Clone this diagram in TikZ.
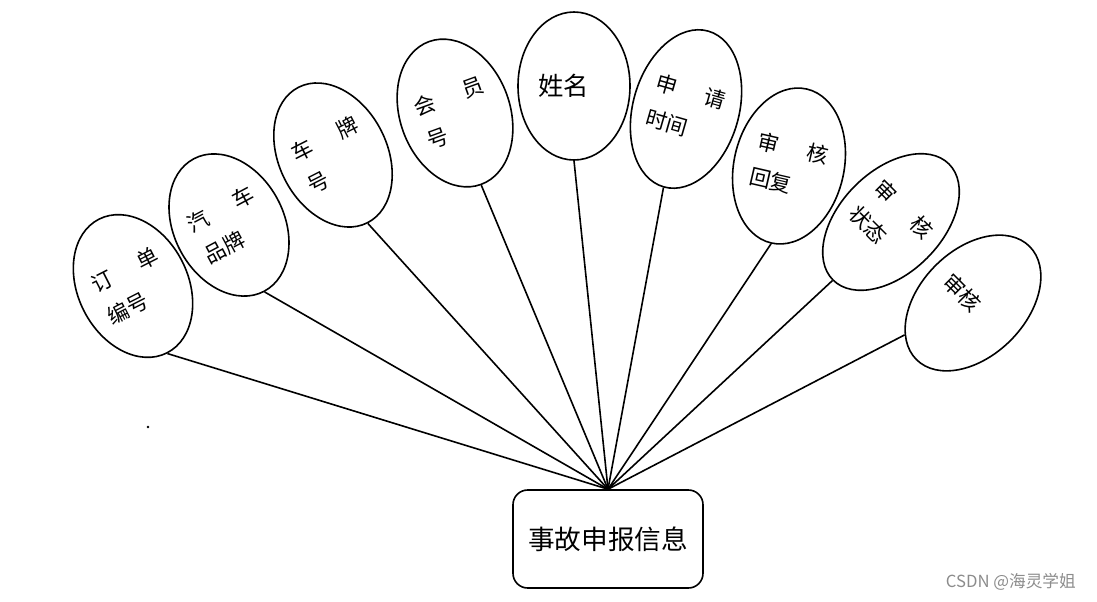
\documentclass[tikz,border=0pt]{standalone}
\usepackage{fontspec}
\newfontfamily\cjk{Noto Sans CJK SC}
\usepackage{tikz}
\usetikzlibrary{shapes.geometric}

\begin{document}
\begin{tikzpicture}[x=0.75pt, y=-0.75pt, line width=1.2pt,
    attr/.style={ellipse, draw, inner sep=0pt, text width=54pt, align=left,
        font=\cjk\fontsize{16}{27}\selectfont},
    entity/.style={rectangle, draw, rounded corners=11pt, minimum width=142.5pt,
        minimum height=73.5pt, font=\cjk\fontsize{20}{24}\selectfont}]

    % Frame
    \useasboundingbox (0,0) rectangle (1097,601);

    % Entity
    \node[entity] (info) at (608,539) {事故申报信息};

    % Attributes
    \node[attr, minimum width=82.5pt, minimum height=112.5pt, rotate=27] (order) at (133,286)
        {订\hspace{22pt}单\\编号};
    \node[attr, minimum width=82.5pt, minimum height=112.5pt, rotate=28] (brand) at (229,225)
        {汽\hspace{22pt}车\\品牌};
    \node[attr, minimum width=81pt, minimum height=114pt, rotate=27] (plate) at (333,155)
        {车\hspace{22pt}牌\\号};
    \node[attr, minimum width=82.5pt, minimum height=114pt, rotate=20] (member) at (455,113)
        {会\hspace{22pt}员\\号};
    \node[attr, minimum width=84pt, minimum height=111pt,
        font=\cjk\fontsize{19}{27}\selectfont] (name) at (574,86) {姓名};
    \node[attr, minimum width=79.5pt, minimum height=121.5pt, rotate=-16] (time) at (686,109)
        {申\hspace{22pt}请\\时间};
    \node[attr, minimum width=82.5pt, minimum height=118.5pt, rotate=-13] (reply) at (789,166)
        {审\hspace{22pt}核\\回复};
    \node[attr, minimum width=76.5pt, minimum height=123pt, rotate=-45] (state) at (891,222)
        {审\hspace{22pt}核\\状态};
    \node[attr, minimum width=79.5pt, minimum height=120pt, rotate=-45] (check) at (973,303)
        {审核};

    % Connectors
    \foreach \n/\a in {order/south, brand/south, plate/south, member/south, name/south,
        time/south, reply/south, state/south, check/250}
        \draw (\n.\a) -- (info.north);

    % Stray dot
    \fill (148,427) circle (1pt);

    % Watermark
    \node[text=black!45, font=\cjk\fontsize{12.5}{15}\selectfont, anchor=east] (mark)
        at (1081,582) {CSDN @海灵学姐};

\end{tikzpicture}
\end{document}
